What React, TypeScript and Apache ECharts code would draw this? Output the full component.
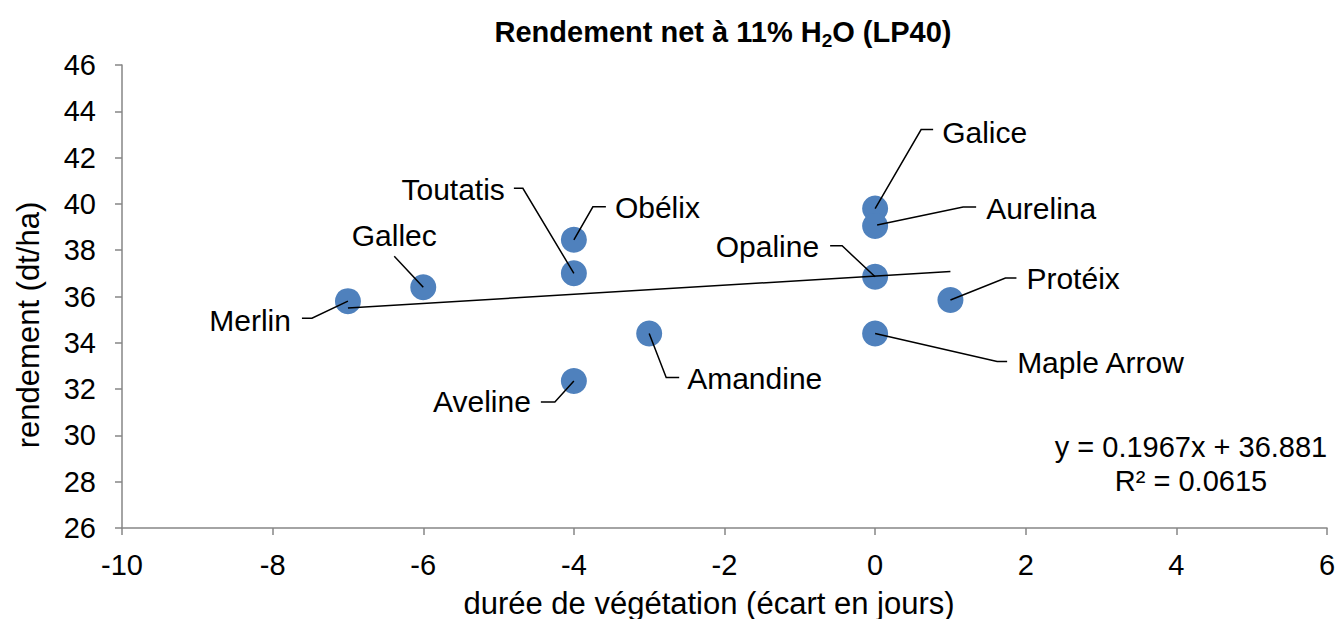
import React, { useEffect, useRef } from "react";
import * as echarts from "echarts";

// ---- data ----
const varieties = [
  "Merlin",
  "Gallec",
  "Toutatis",
  "Obélix",
  "Aveline",
  "Amandine",
  "Galice",
  "Aurelina",
  "Opaline",
  "Protéix",
  "Maple Arrow",
];
const ecartJours = [-7, -6, -4, -4, -4, -3, 0, 0, 0, 1, 0];
const rendement = [35.8, 36.4, 37.0, 38.45, 32.35, 34.4, 39.8, 39.05, 36.85, 35.85, 34.4];

// regression line y = 0.1967x + 36.881 drawn between x = -7 and x = 1
const trendX = [-7, 1];
const trendY = [35.504, 37.078];
const equationText = "y = 0.1967x + 36.881";
const r2Text = "R² = 0.0615";

const xMin = -10;
const xMax = 6;
const xStep = 2;
const yMin = 26;
const yMax = 46;
const yStep = 2;

const chartTitleParts = ["Rendement net à 11% H", "2", "O (LP40)"];
const xAxisTitle = "durée de végétation (écart en jours)";
const yAxisTitle = "rendement (dt/ha)";

// ---- label placement (pixel offsets from each point) ----
type LabelPos = { line: number[][]; text: number[]; align: "left" | "right" | "center" };
const labelPlacement: Record<string, LabelPos> = {
  Merlin: { line: [[0, 0], [-36, 17], [-46, 17]], text: [-57, 19], align: "right" },
  Gallec: { line: [[0, 0], [-29, -31]], text: [-29, -52], align: "center" },
  Toutatis: { line: [[0, 0], [-51, -85], [-60, -85]], text: [-69, -84], align: "right" },
  "Obélix": { line: [[0, 0], [19, -33], [32, -33]], text: [41, -32], align: "left" },
  Aveline: { line: [[0, 0], [-19, 21], [-33, 21]], text: [-43, 21], align: "right" },
  Amandine: { line: [[0, 0], [17, 44], [30, 44]], text: [38, 45], align: "left" },
  Galice: { line: [[0, 0], [46, -79], [58, -79]], text: [67, -76], align: "left" },
  Aurelina: { line: [[2, -1], [88, -19], [101, -19]], text: [111, -17], align: "left" },
  Opaline: { line: [[0, 0], [-33, -31], [-45, -31]], text: [-56, -30], align: "right" },
  "Protéix": { line: [[0, 0], [55, -22], [66, -22]], text: [76, -21], align: "left" },
  "Maple Arrow": { line: [[0, 0], [122, 28], [132, 28]], text: [142, 29], align: "left" },
};

const FONT = "'Liberation Sans', Arial, Helvetica, sans-serif";
const FS_TICK = 29;
const FS_LABEL = 30;
const FS_AXIS = 31;
const FS_EQ = 29;

export default function App() {
  const ref = useRef<HTMLDivElement>(null);

  useEffect(() => {
    document.body.style.margin = "0";
    if (!ref.current) return;
    const chart = echarts.init(ref.current, null, { renderer: "svg" });

    const points = varieties.map((n, i) => [ecartJours[i], rendement[i]]);
    const trend = trendX.map((x, i) => [x, trendY[i]]);

    const option: any = {
      animation: false,
      backgroundColor: "#ffffff",
      textStyle: { fontFamily: FONT },
      title: {
        text: `{b|${chartTitleParts[0]}}{s|${chartTitleParts[1]}}{b|${chartTitleParts[2]}}`,
        left: 718,
        textAlign: "center",
        top: 9,
        textStyle: {
          rich: {
            b: { fontFamily: FONT, fontSize: 29, fontWeight: "bold", color: "#000", lineHeight: 36 },
            s: {
              fontFamily: FONT,
              fontSize: 19,
              fontWeight: "bold",
              color: "#000",
              lineHeight: 36,
              verticalAlign: "bottom",
              padding: [15, 0, 0, 0],
            },
          },
        },
      },
      grid: {
        left: 122,
        right: 13,
        top: 65,
        bottom: 91,
        containLabel: false,
        outerBoundsMode: "none",
      },
      xAxis: {
        type: "value",
        min: xMin,
        max: xMax,
        interval: xStep,
        splitLine: { show: false },
        axisLine: { onZero: false, lineStyle: { color: "#868686", width: 1.5 } },
        axisTick: { show: true, inside: false, length: 7, lineStyle: { color: "#868686", width: 1.5 } },
        axisLabel: { fontFamily: FONT, fontSize: FS_TICK, color: "#000", margin: 22 },
      },
      yAxis: {
        type: "value",
        min: yMin,
        max: yMax,
        interval: yStep,
        splitLine: { show: false },
        axisLine: { show: true, onZero: false, lineStyle: { color: "#868686", width: 1.5 } },
        axisTick: { show: true, inside: false, length: 7, lineStyle: { color: "#868686", width: 1.5 } },
        axisLabel: { fontFamily: FONT, fontSize: FS_TICK, color: "#000", margin: 26 },
      },
      graphic: [
        {
          type: "text",
          x: 709,
          y: 603,
          style: {
            text: xAxisTitle,
            fontFamily: FONT,
            fontSize: FS_AXIS,
            fill: "#000",
            align: "center",
            verticalAlign: "middle",
          },
        },
        {
          type: "text",
          x: 28,
          y: 325,
          rotation: Math.PI / 2,
          style: {
            text: yAxisTitle,
            fontFamily: FONT,
            fontSize: FS_AXIS,
            fill: "#000",
            align: "center",
            verticalAlign: "middle",
          },
        },
        {
          type: "text",
          x: 1191,
          y: 447,
          style: {
            text: equationText,
            fontFamily: FONT,
            fontSize: FS_EQ,
            fill: "#000",
            align: "center",
            verticalAlign: "middle",
          },
        },
        {
          type: "text",
          x: 1191,
          y: 481,
          style: {
            text: r2Text,
            fontFamily: FONT,
            fontSize: FS_EQ,
            fill: "#000",
            align: "center",
            verticalAlign: "middle",
          },
        },
      ],
      series: [
        {
          type: "scatter",
          name: "rendement",
          data: points,
          symbol: "circle",
          symbolSize: 26,
          itemStyle: { color: "#4F81BD", opacity: 1 },
          z: 2,
        },
        {
          type: "line",
          name: "tendance",
          data: trend,
          symbol: "none",
          lineStyle: { color: "#000", width: 1.6 },
          z: 3,
          silent: true,
        },
        {
          type: "custom",
          name: "labels",
          coordinateSystem: "cartesian2d",
          data: points,
          clip: false,
          z: 4,
          silent: true,
          renderItem: (params: any, api: any) => {
            const name = varieties[params.dataIndex];
            const lay = labelPlacement[name];
            const p = api.coord([api.value(0), api.value(1)]);
            return {
              type: "group",
              children: [
                {
                  type: "polyline",
                  shape: { points: lay.line.map((o) => [p[0] + o[0], p[1] + o[1]]) },
                  style: { stroke: "#000", lineWidth: 1.5, fill: "none" },
                },
                {
                  type: "text",
                  x: p[0] + lay.text[0],
                  y: p[1] + lay.text[1],
                  style: {
                    text: name,
                    fontFamily: FONT,
                    fontSize: FS_LABEL,
                    fill: "#000",
                    align: lay.align,
                    verticalAlign: "middle",
                  },
                },
              ],
            };
          },
        },
      ],
    };

    chart.setOption(option);
    return () => chart.dispose();
  }, []);

  return <div ref={ref} style={{ width: 1340, height: 619 }} />;
}
